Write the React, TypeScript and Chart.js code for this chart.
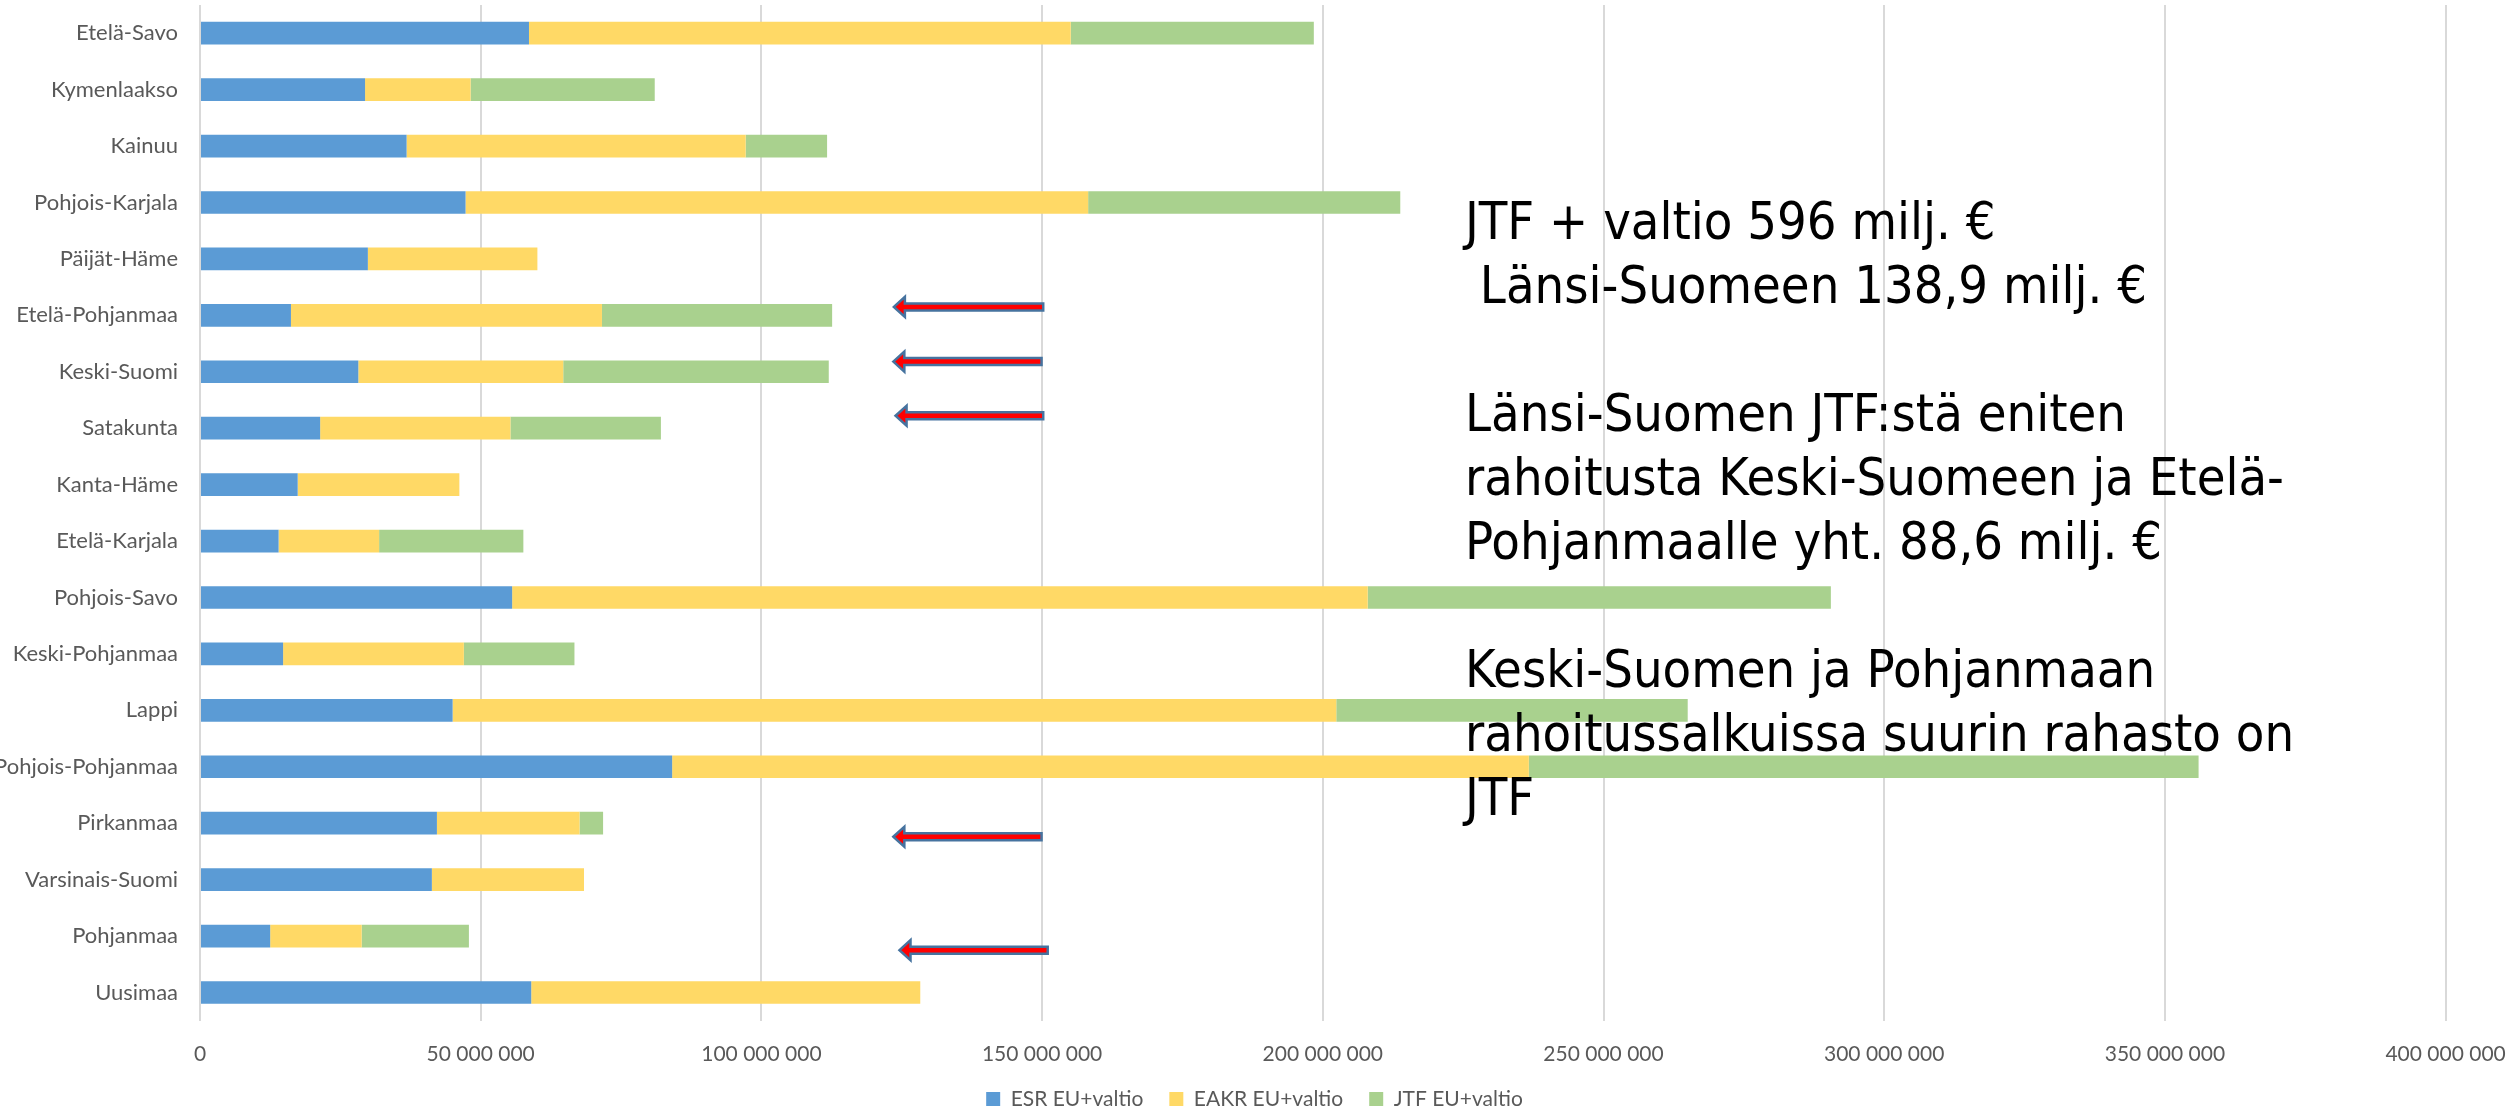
import React, { useEffect, useRef } from 'react';
import { Chart, registerables } from 'chart.js';

Chart.register(...registerables);

const categories = [
  'Etelä-Savo', 'Kymenlaakso', 'Kainuu', 'Pohjois-Karjala', 'Päijät-Häme',
  'Etelä-Pohjanmaa', 'Keski-Suomi', 'Satakunta', 'Kanta-Häme', 'Etelä-Karjala',
  'Pohjois-Savo', 'Keski-Pohjanmaa', 'Lappi', 'Pohjois-Pohjanmaa', 'Pirkanmaa',
  'Varsinais-Suomi', 'Pohjanmaa', 'Uusimaa',
];

const seriesNames = ['ESR EU+valtio', 'EAKR EU+valtio', 'JTF EU+valtio'];

const esrValues = [
  58600000, 29400000, 36800000, 47300000, 29900000,
  16200000, 28200000, 21400000, 17400000, 14000000,
  55600000, 14800000, 45000000, 84100000, 42200000,
  41300000, 12500000, 59000000,
];

const eakrValues = [
  96500000, 18800000, 60400000, 110900000, 30200000,
  55400000, 36500000, 33900000, 28800000, 17900000,
  152400000, 32200000, 157400000, 152600000, 25400000,
  27100000, 16300000, 69300000,
];

const jtfValues = [
  43300000, 32800000, 14500000, 55600000, 0,
  41000000, 47300000, 26800000, 0, 25700000,
  82500000, 19700000, 62600000, 119300000, 4200000,
  0, 19100000, 0,
];

const xMin = 0;
const xMax = 400000000;
const xStep = 50000000;

// red arrows (category position, start value, tip value)
const arrowRows = [4.85, 5.82, 6.78, 14.24, 16.25];
const arrowStart = [150200000, 149900000, 150200000, 149900000, 151000000];
const arrowTip = [123600000, 123500000, 123900000, 123500000, 124600000];

const noteLines = [
  'JTF + valtio 596 milj. €',
  ' Länsi-Suomeen 138,9 milj. €',
  '',
  'Länsi-Suomen JTF:stä eniten',
  'rahoitusta Keski-Suomeen ja Etelä-',
  'Pohjanmaalle yht. 88,6 milj. €',
  '',
  'Keski-Suomen ja Pohjanmaan',
  'rahoitussalkuissa suurin rahasto on',
  'JTF',
];

const fmt = (v: number) =>
  Math.round(v).toString().replace(/\B(?=(\d{3})+(?!\d))/g, ' ');

const arrowPlugin = {
  id: 'redArrows',
  afterDatasetsDraw(chart: any) {
    const { ctx } = chart;
    const xs = chart.scales.x;
    const ys = chart.scales.y;
    ctx.save();
    for (let i = 0; i < arrowRows.length; i++) {
      const yc = ys.getPixelForValue(arrowRows[i]);
      const x0 = xs.getPixelForValue(arrowStart[i]);
      const xt = xs.getPixelForValue(arrowTip[i]);
      const hl = 11;
      const hh = 10;
      const sh = 3.5;
      ctx.beginPath();
      ctx.moveTo(xt, yc);
      ctx.lineTo(xt + hl, yc - hh);
      ctx.lineTo(xt + hl, yc - sh);
      ctx.lineTo(x0, yc - sh);
      ctx.lineTo(x0, yc + sh);
      ctx.lineTo(xt + hl, yc + sh);
      ctx.lineTo(xt + hl, yc + hh);
      ctx.closePath();
      ctx.fillStyle = '#FF0000';
      ctx.fill();
      ctx.lineWidth = 2.5;
      ctx.lineJoin = 'miter';
      ctx.strokeStyle = '#46739F';
      ctx.stroke();
    }
    ctx.restore();
  },
};

export default function App() {
  const canvasRef = useRef<HTMLCanvasElement | null>(null);

  useEffect(() => {
    document.body.style.margin = '0';
    document.body.style.overflow = 'hidden';
    const canvas = canvasRef.current;
    if (!canvas) return;
    const chart = new Chart(canvas, {
      type: 'bar',
      data: {
        labels: categories,
        datasets: [
          { label: seriesNames[0], data: esrValues, backgroundColor: '#5B9BD5', borderWidth: 0 },
          { label: seriesNames[1], data: eakrValues, backgroundColor: '#FFD966', borderWidth: 0 },
          { label: seriesNames[2], data: jtfValues, backgroundColor: '#A9D18E', borderWidth: 0 },
        ],
      },
      options: {
        indexAxis: 'y',
        responsive: false,
        animation: false,
        devicePixelRatio: 1,
        datasets: { bar: { barPercentage: 0.402, categoryPercentage: 1 } },
        layout: { padding: { top: 5, right: 0, bottom: -8.5, left: 0 } },
        plugins: {
          tooltip: { enabled: false },
          legend: {
            position: 'bottom',
            labels: {
              boxWidth: 14,
              boxHeight: 14,
              padding: 26,
              color: '#595959',
              font: { family: 'Lato', size: 21 },
            },
          },
        },
        scales: {
          x: {
            stacked: true,
            min: xMin,
            max: xMax,
            grid: { color: '#D9D9D9', lineWidth: 2, drawTicks: false },
            border: { display: false },
            ticks: {
              stepSize: xStep,
              autoSkip: false,
              maxRotation: 0,
              padding: 21,
              color: '#595959',
              font: { family: 'Lato', size: 21 },
              callback: (v: any) => fmt(Number(v)),
            },
            afterFit: (s: any) => {
              s.height = 41.8;
              s.paddingRight = 63.4;
            },
          },
          y: {
            stacked: true,
            grid: { display: false, drawTicks: true, tickLength: 22 },
            border: { display: false },
            ticks: {
              padding: 0,
              color: '#595959',
              font: { family: 'Lato', size: 22 },
              autoSkip: false,
            },
            afterFit: (s: any) => {
              s.width = 200;
              s.paddingTop = 0;
              s.paddingBottom = 0;
            },
          },
        },
      },
      plugins: [arrowPlugin],
    } as any);
    return () => chart.destroy();
  }, []);

  return (
    <div style={{ position: 'relative', width: 2509, height: 1111, overflow: 'hidden', background: '#fff' }}>
      <canvas ref={canvasRef} width={2509} height={1111} style={{ display: 'block', width: 2509, height: 1111 }} />
      <div
        style={{
          position: 'absolute',
          left: 1465,
          top: 189,
          fontFamily: '"DejaVu Sans Condensed", "DejaVu Sans", sans-serif',
          fontStretch: 'condensed',
          fontSize: 52,
          lineHeight: '64px',
          color: '#000',
          whiteSpace: 'pre',
        }}
      >
        {noteLines.map((t, i) => (
          <div key={i} style={{ height: 64 }}>{t}</div>
        ))}
      </div>
    </div>
  );
}
